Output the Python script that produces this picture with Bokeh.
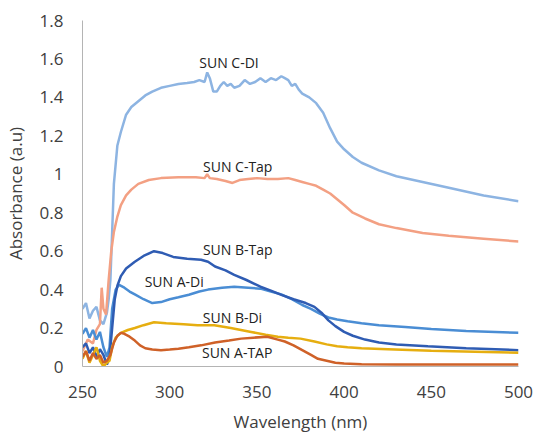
from bokeh.plotting import figure
from bokeh.models import Range1d, FixedTicker, CustomJSTickFormatter, ColumnDataSource
from bokeh.core.properties import value
from bokeh.embed import file_html
from bokeh.resources import INLINE

# ---- data ----
cdi_wl = [250, 252, 254, 256, 258, 260, 262, 264, 265, 266, 267, 268, 270, 272, 275, 278, 282, 286, 290, 295,
          300, 305, 310, 314, 317, 320, 321.5, 323, 325, 327, 329, 331, 333, 335, 337, 340, 343, 346, 349, 352,
          355, 358, 361, 364, 366, 368, 370, 372, 374, 376, 380, 384, 388, 392, 396, 400, 405, 410, 420, 430,
          445, 460, 480, 500]
cdi_abs = [0.30, 0.33, 0.25, 0.29, 0.31, 0.24, 0.22, 0.28, 0.35, 0.45, 0.70, 0.95, 1.15, 1.22, 1.31, 1.35, 1.38, 1.41, 1.43, 1.45,
           1.46, 1.47, 1.475, 1.48, 1.49, 1.48, 1.53, 1.50, 1.43, 1.43, 1.46, 1.48, 1.46, 1.47, 1.45, 1.46, 1.49, 1.47, 1.48, 1.50,
           1.48, 1.50, 1.49, 1.51, 1.50, 1.49, 1.46, 1.47, 1.44, 1.42, 1.40, 1.37, 1.32, 1.24, 1.17, 1.13, 1.09, 1.06, 1.02, 0.99,
           0.96, 0.93, 0.89, 0.86]

ctap_wl = [250, 253, 256, 258, 260, 261, 262, 263.5, 265, 266.5, 268, 270, 272, 275, 278, 282, 288, 295, 305, 315,
           320, 321.5, 323, 327, 332, 336, 340, 345, 350, 356, 362, 368, 372, 376, 380, 384, 388, 392, 396, 400,
           405, 412, 420, 430, 445, 460, 480, 500]
ctap_abs = [0.08, 0.14, 0.12, 0.19, 0.22, 0.41, 0.30, 0.27, 0.45, 0.60, 0.70, 0.78, 0.84, 0.89, 0.92, 0.95, 0.97, 0.98, 0.985, 0.985,
            0.98, 1.00, 0.98, 0.975, 0.965, 0.955, 0.97, 0.975, 0.98, 0.975, 0.975, 0.98, 0.97, 0.96, 0.95, 0.94, 0.92, 0.90, 0.87, 0.84,
            0.80, 0.77, 0.74, 0.72, 0.695, 0.68, 0.665, 0.65]

btap_wl = [250, 252, 254, 256, 258, 260, 262, 264, 265.5, 267, 268.5, 270, 272, 275, 280, 285, 291, 296, 302, 310,
           318, 322, 326, 332, 337, 344, 352, 358, 364, 371, 378, 383, 387, 391, 395, 400, 405, 412, 420, 430,
           448, 470, 500]
btap_abs = [0.10, 0.12, 0.07, 0.10, 0.05, 0.09, 0.06, 0.01, 0.05, 0.20, 0.35, 0.42, 0.47, 0.51, 0.545, 0.575, 0.60, 0.59, 0.57, 0.56,
            0.555, 0.545, 0.52, 0.50, 0.477, 0.45, 0.415, 0.395, 0.373, 0.35, 0.33, 0.31, 0.28, 0.24, 0.21, 0.18, 0.16, 0.14, 0.125, 0.115,
            0.105, 0.095, 0.085]

adi_wl = [250, 252, 254, 256, 258, 260, 262, 264, 265.5, 267, 269, 271, 274, 277, 280, 285, 290, 295, 300, 305,
          311, 317, 322, 330, 337, 345, 352, 358, 364, 370, 376, 381, 386, 391, 396, 402, 410, 420, 435, 450,
          470, 500]
adi_abs = [0.17, 0.20, 0.15, 0.19, 0.14, 0.18, 0.10, 0.05, 0.10, 0.30, 0.40, 0.425, 0.41, 0.39, 0.375, 0.35, 0.33, 0.335, 0.35, 0.36,
           0.373, 0.39, 0.40, 0.41, 0.415, 0.41, 0.405, 0.39, 0.375, 0.35, 0.32, 0.30, 0.275, 0.255, 0.245, 0.235, 0.225, 0.215, 0.205, 0.195,
           0.185, 0.175]

bdi_wl = [250, 252, 254, 256, 258, 260, 262, 264, 265.5, 267, 269, 272, 276, 280, 285, 291, 298, 308, 316, 325.6,
          335, 346.7, 355, 362, 368, 375, 383, 390, 396, 402, 410, 425, 450, 475, 500]
bdi_abs = [0.04, 0.08, 0.02, 0.06, 0.10, 0.03, 0.00, 0.02, 0.03, 0.10, 0.15, 0.175, 0.19, 0.20, 0.215, 0.23, 0.225, 0.22, 0.215, 0.215,
           0.20, 0.18, 0.165, 0.155, 0.15, 0.145, 0.13, 0.115, 0.105, 0.10, 0.095, 0.09, 0.082, 0.077, 0.072]

atap_wl = [250, 252, 254, 256, 258, 260, 262, 264, 266, 268, 270, 272, 274, 277, 280, 283, 286, 290, 295, 300,
           305, 311, 318, 326, 334, 341, 348, 356, 362, 366, 371, 376, 381, 385, 390, 395, 400, 410, 430, 460,
           500]
atap_abs = [0.05, 0.08, 0.03, 0.07, 0.04, 0.06, 0.02, 0.03, 0.06, 0.125, 0.16, 0.175, 0.17, 0.155, 0.135, 0.11, 0.095, 0.088, 0.085, 0.088,
            0.092, 0.10, 0.11, 0.125, 0.135, 0.145, 0.15, 0.155, 0.14, 0.13, 0.11, 0.085, 0.06, 0.04, 0.03, 0.02, 0.015, 0.012, 0.01, 0.01,
            0.01]

label_text = ["SUN C-DI", "SUN C-Tap", "SUN B-Tap", "SUN A-Di", "SUN B-Di", "SUN A-TAP"]
label_wl = [334, 339, 339, 302.6, 336, 338.7]
label_abs = [1.58, 1.04, 0.607, 0.44, 0.254, 0.073]

x_ticks = [250, 300, 350, 400, 450, 500]
y_ticks = [0, 0.2, 0.4, 0.6, 0.8, 1.0, 1.2, 1.4, 1.6, 1.8]

series = [
    (cdi_wl, cdi_abs, "#8DB4E2"),
    (ctap_wl, ctap_abs, "#F3A083"),
    (adi_wl, adi_abs, "#4A8DD4"),
    (btap_wl, btap_abs, "#2F5CB3"),
    (bdi_wl, bdi_abs, "#E6AE10"),
    (atap_wl, atap_abs, "#CF6128"),
]

for xs, ys, _ in series:
    assert len(xs) == len(ys), (len(xs), len(ys))

p = figure(width=537, height=435, output_backend="svg", toolbar_location=None,
           x_range=Range1d(250, 500), y_range=Range1d(0, 1.8),
           min_border_left=81, min_border_top=20, min_border_right=19, min_border_bottom=69)

for xs, ys, col in series:
    p.line(xs, ys, line_color=col, line_width=2.5)

src = ColumnDataSource(dict(x=label_wl, y=label_abs, t=label_text))
p.text(x="x", y="y", text="t", source=src, text_font=value("Open Sans"), text_font_size="14px",
       text_align="center", text_baseline="middle", text_color="#222222")

p.grid.visible = False
p.outline_line_color = None
p.background_fill_color = "white"
p.border_fill_color = "white"

for ax in (p.xaxis[0], p.yaxis[0]):
    ax.axis_line_color = "#B4B4B4"
    ax.axis_line_width = 1
    ax.major_tick_line_color = None
    ax.minor_tick_line_color = None
    ax.major_tick_out = 0
    ax.major_tick_in = 0
    ax.minor_tick_out = 0
    ax.major_label_text_font = "Open Sans"
    ax.major_label_text_font_size = "17px"
    ax.major_label_text_color = "#404040"
    ax.axis_label_text_font = "Open Sans"
    ax.axis_label_text_font_size = "17px"
    ax.axis_label_text_font_style = "normal"
    ax.axis_label_text_color = "#404040"

p.xaxis.ticker = FixedTicker(ticks=x_ticks)
p.yaxis.ticker = FixedTicker(ticks=y_ticks)
p.yaxis.formatter = CustomJSTickFormatter(code="return String(Math.round(tick*10)/10);")
p.xaxis.axis_label = "Wavelength (nm)"
p.yaxis.axis_label = "Absorbance (a.u)"
p.xaxis.major_label_standoff = 19
p.yaxis.major_label_standoff = 19
p.xaxis.axis_label_standoff = 9
p.yaxis.axis_label_standoff = 10

open("out.html", "w").write(file_html(p, INLINE))
